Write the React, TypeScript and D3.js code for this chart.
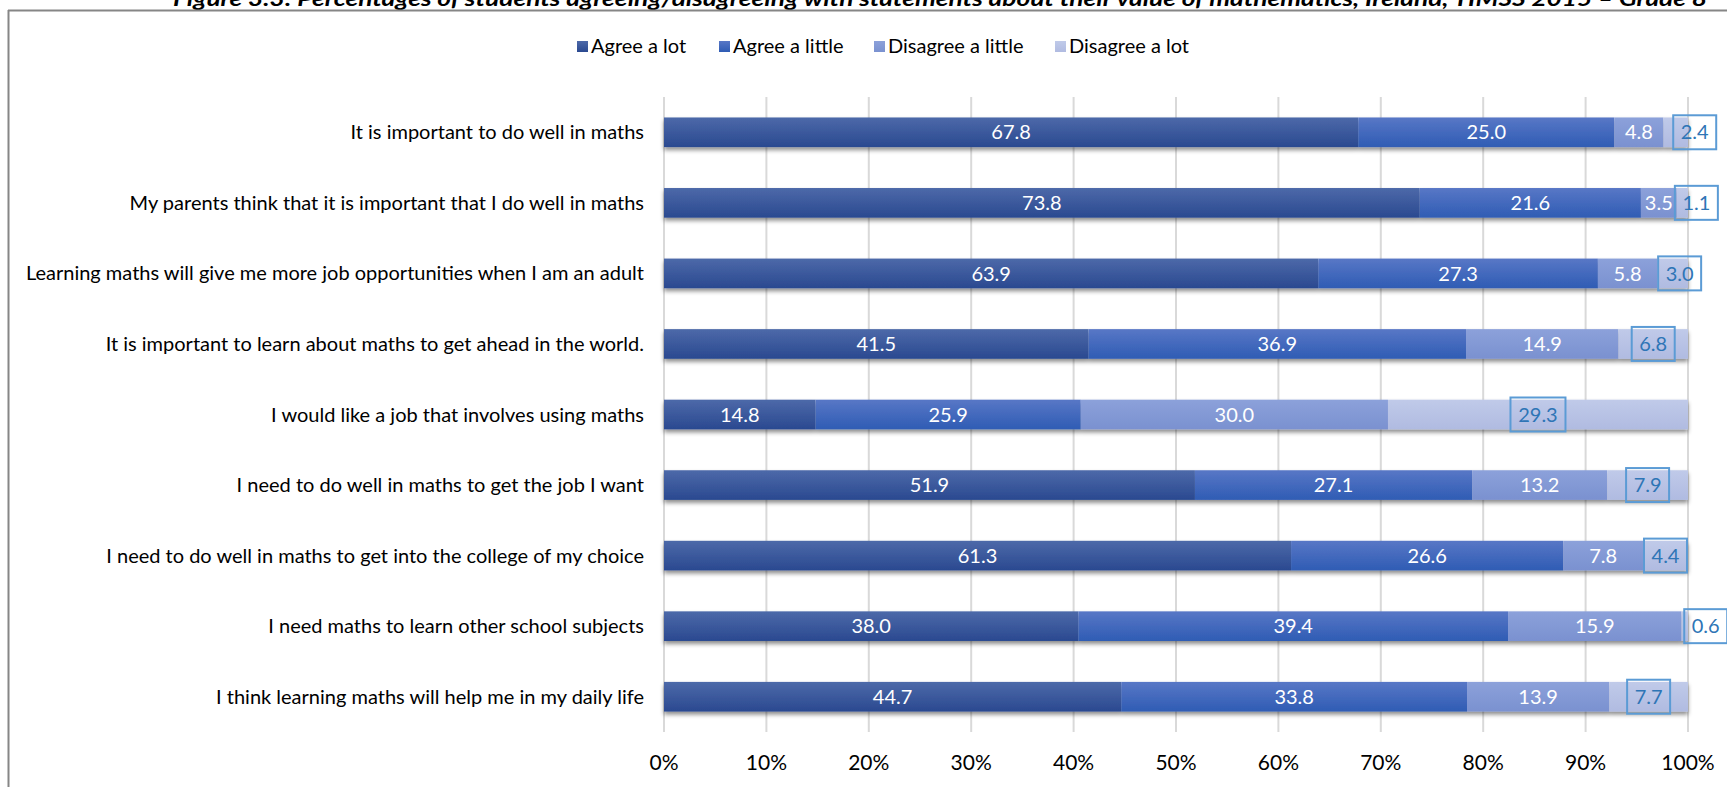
import React from "react";
import * as d3 from "d3";

const title =
  "Figure 3.3: Percentages of students agreeing/disagreeing with statements about their value of mathematics, Ireland, TIMSS 2015 \u2013 Grade 8";

const categories = [
  "It is important to do well in maths",
  "My parents think that it is important that I do well in maths",
  "Learning maths will give me more job opportunities when I am an adult",
  "It is important to learn about maths to get ahead in the world.",
  "I would like a job that involves using maths",
  "I need to do well in maths to get the job I want",
  "I need to do well in maths to get into the college of my choice",
  "I need maths to learn other school subjects",
  "I think learning maths will help me in my daily life",
];

const seriesNames = ["Agree a lot", "Agree a little", "Disagree a little", "Disagree a lot"];

const agreeALot = [67.8, 73.8, 63.9, 41.5, 14.8, 51.9, 61.3, 38.0, 44.7];
const agreeALittle = [25.0, 21.6, 27.3, 36.9, 25.9, 27.1, 26.6, 39.4, 33.8];
const disagreeALittle = [4.8, 3.5, 5.8, 14.9, 30.0, 13.2, 7.8, 15.9, 13.9];
const disagreeALot = [2.4, 1.1, 3.0, 6.8, 29.3, 7.9, 4.4, 0.6, 7.7];

const tickLabels = ["0%", "10%", "20%", "30%", "40%", "50%", "60%", "70%", "80%", "90%", "100%"];

// presentation: manual nudges (px) for the small end labels, as in the original chart
const endLabelNudge = [19, 14, 7, 0, 0, 0, 0, 21, 0];

const colorsTop = ["#4d69a9", "#5877c6", "#8ca1da", "#c0cae9"];
const colorsBottom = ["#2a4990", "#2f5cb4", "#7a91d0", "#b0bbe1"];

const W = 1727;
const H = 787;
const FONT = "Lato, 'Open Sans', sans-serif";

export default function App() {
  const rows = categories.map((c, i) => ({
    cat: c,
    s0: agreeALot[i],
    s1: agreeALittle[i],
    s2: disagreeALittle[i],
    s3: disagreeALot[i],
  }));
  const keys = ["s0", "s1", "s2", "s3"];
  const stacked = d3.stack<any>().keys(keys).offset(d3.stackOffsetExpand)(rows);

  const x = d3.scaleLinear().domain([0, 1]).range([664, 1688]);
  const y = d3.scaleBand<string>().domain(categories).range([97, 732]).paddingInner(0.58).paddingOuter(0.29);
  const bh = y.bandwidth();
  const ticks = d3.range(0, 11).map((d) => d / 10);

  const legendX = [577, 719, 874, 1055];

  return (
    <svg
      width={W}
      height={H}
      style={{ position: "absolute", left: 0, top: 0, background: "#fff" }}
      fontFamily={FONT}
    >
      <defs>
        {keys.map((k, i) => (
          <linearGradient key={k} id={`g${i}`} x1="0" y1="0" x2="0" y2="1">
            <stop offset="0%" stopColor={colorsTop[i]} />
            <stop offset="100%" stopColor={colorsBottom[i]} />
          </linearGradient>
        ))}
        <filter id="shadow" x="-5%" y="-30%" width="110%" height="180%">
          <feDropShadow dx="0" dy="3" stdDeviation="2" floodColor="#000" floodOpacity="0.45" />
        </filter>
      </defs>

      {/* title (cut off at the top, as in the source) */}
      <text
        x={173}
        y={6}
        fontSize={21}
        fontWeight="bold"
        fontStyle="italic"
        fill="#000"
        textLength={1534}
        lengthAdjust="spacingAndGlyphs"
      >
        {title}
      </text>

      {/* chart frame */}
      <line x1={8} x2={W} y1={10.5} y2={10.5} stroke="#868686" strokeWidth={2} />
      <line x1={8.5} x2={8.5} y1={10} y2={H} stroke="#868686" strokeWidth={2} />

      {/* legend */}
      {seriesNames.map((n, i) => (
        <g key={n}>
          <rect x={legendX[i]} y={41} width={11} height={11} fill={`url(#g${i})`} />
          <text x={legendX[i] + 14} y={53} fontSize={20} fill="#000">
            {n}
          </text>
        </g>
      ))}

      {/* gridlines */}
      {ticks.map((t) => (
        <line key={t} x1={x(t)} x2={x(t)} y1={97} y2={732} stroke="#d9d9d9" strokeWidth={2} />
      ))}

      {/* bars */}
      {categories.map((c, i) => (
        <g key={c} filter="url(#shadow)">
          {stacked.map((s, si) => (
            <rect
              key={si}
              x={x(s[i][0])}
              y={y(c)!}
              width={x(s[i][1]) - x(s[i][0])}
              height={bh}
              fill={`url(#g${si})`}
            />
          ))}
        </g>
      ))}

      {/* category labels */}
      {categories.map((c) => (
        <text
          key={c}
          x={644}
          y={y(c)! + bh / 2}
          dy="0.35em"
          textAnchor="end"
          fontSize={20}
          fill="#000"
        >
          {c}
        </text>
      ))}

      {/* data labels */}
      {stacked.map((s, si) =>
        s.map((d, i) => {
          const v = (rows[i] as any)[keys[si]] as number;
          const cx = (x(d[0]) + x(d[1])) / 2;
          const cy = y(categories[i])! + bh / 2;
          const label = v.toFixed(1);
          if (si < 3) {
            return (
              <text key={`${si}-${i}`} x={cx} y={cy} dy="0.36em" textAnchor="middle" fontSize={20} fill="#fff">
                {label}
              </text>
            );
          }
          const nudge = endLabelNudge[i] || 0;
          const bw = label.length > 3 ? 55 : 43;
          const bx = cx + nudge;
          return (
            <g key={`${si}-${i}`}>
              <rect x={bx - bw / 2} y={cy - 17} width={bw} height={34} fill="none" stroke="#5b9bd5" strokeWidth={2} />
              <text x={bx} y={cy} dy="0.36em" textAnchor="middle" fontSize={20} fill="#2e75b6">
                {label}
              </text>
            </g>
          );
        })
      )}

      {/* x axis tick labels */}
      {ticks.map((t, i) => (
        <text key={t} x={x(t)} y={770} textAnchor="middle" fontSize={21} fill="#000">
          {tickLabels[i]}
        </text>
      ))}
    </svg>
  );
}
